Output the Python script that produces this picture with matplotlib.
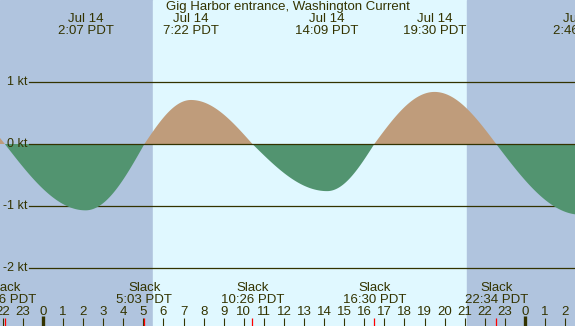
import numpy as np
import matplotlib
matplotlib.use("Agg")
import matplotlib.pyplot as plt
import matplotlib.transforms as mtransforms

# events, hours from midnight Jul 14 (PDT)
event_hours = [-5.0, -1.9, 2.12, 5.05, 7.37, 10.43, 14.15, 16.5, 19.5, 22.57, 26.77, 29.6]
event_speeds = [0.80, 0.0, -1.07, 0.0, 0.71, 0.0, -0.76, 0.0, 0.84, 0.0, -1.14, 0.0]

top_labels = [("Jul 14", "2:07 PDT", 2.12), ("Jul 14", "7:22 PDT", 7.37),
              ("Jul 14", "14:09 PDT", 14.15), ("Jul 14", "19:30 PDT", 19.5),
              ("Jul 15", "2:46 PDT", 26.77)]
slack_labels = [("22:06 PDT", -1.9), ("5:03 PDT", 5.05), ("10:26 PDT", 10.43),
                ("16:30 PDT", 16.5), ("22:34 PDT", 22.57)]

sunrise, sunset = 5.48, 21.12
kt_levels = [1, 0, -1, -2]

night = "#b0c4de"
day = "#e0f8ff"
flood_c = "#bf9c7b"
ebb_c = "#529470"
ink = "#333300"

# curve shaped between consecutive events (cosine quarter waves)
t = np.linspace(-2.3, 26.7, 3000)
v = np.zeros_like(t)
for i in range(len(event_hours) - 1):
    h0, h1 = event_hours[i], event_hours[i + 1]
    s0, s1 = event_speeds[i], event_speeds[i + 1]
    m = (t >= h0) & (t <= h1)
    f = (t[m] - h0) / (h1 - h0)
    if s0 == 0:
        v[m] = s1 * np.sin(f * np.pi / 2)
    else:
        v[m] = s0 * np.cos(f * np.pi / 2)

fig = plt.figure(figsize=(5.75, 3.26), dpi=100)
ax = fig.add_axes([0, 0, 1, 1])
x0 = -43 / 20.08
x1 = (575 - 43) / 20.08
ax.set_xlim(x0, x1)
ax.set_ylim(-182 / 62, 144 / 62)
ax.axis("off")

ax.axvspan(x0, sunrise, color=night, zorder=0)
ax.axvspan(sunrise, sunset, color=day, zorder=0)
ax.axvspan(sunset, x1, color=night, zorder=0)

ax.fill_between(t, 0, v, where=v >= 0, color=flood_c, lw=0, zorder=2)
ax.fill_between(t, 0, v, where=v <= 0, color=ebb_c, lw=0, zorder=2)

px = 1 / 20.08
for k in kt_levels:
    ax.plot([x0 + 29 * px, x1], [k, k], color=ink, lw=0.9, zorder=1 if k != 0 else 3)
    ax.text(x0 + 28 * px, k, f"{k} kt", ha="right", va="center", fontsize=9,
            color=ink, family="Liberation Sans", zorder=4)

trans = mtransforms.blended_transform_factory(ax.transData, ax.transAxes)
H = 326.0

def ypos(p):
    return 1 - p / H

ax.text(0.5, ypos(7), "Gig Harbor entrance, Washington Current", transform=ax.transAxes,
        ha="center", va="center", fontsize=9.5, color=ink, family="Liberation Sans")
for d, tm, h in top_labels:
    ax.text(h, ypos(19), d, transform=trans, ha="center", va="center", fontsize=9.5,
            color=ink, family="Liberation Sans")
    ax.text(h, ypos(31), tm, transform=trans, ha="center", va="center", fontsize=9.5,
            color=ink, family="Liberation Sans")
for tm, h in slack_labels:
    ax.text(h, ypos(288), "Slack", transform=trans, ha="center", va="center", fontsize=9.5,
            color=ink, family="Liberation Sans")
    ax.text(h, ypos(300), tm, transform=trans, ha="center", va="center", fontsize=9.5,
            color=ink, family="Liberation Sans")

for h in range(-2, 27):
    ax.text(h, ypos(312), str(h % 24), transform=trans, ha="center", va="center",
            fontsize=9.5, color=ink, family="Liberation Sans")
    if h % 24 == 0:
        ax.plot([h, h], [ypos(316), 0], transform=trans, color=ink, lw=2.4,
                solid_capstyle="butt", zorder=5)
    else:
        ax.plot([h, h], [ypos(318), 0], transform=trans, color=ink, lw=0.8,
                solid_capstyle="butt", zorder=5)
for tm, h in slack_labels:
    ax.plot([h, h], [ypos(318), 0], transform=trans, color="red", lw=0.9,
            solid_capstyle="butt", zorder=6)

fig.savefig("out.png", dpi=100)
